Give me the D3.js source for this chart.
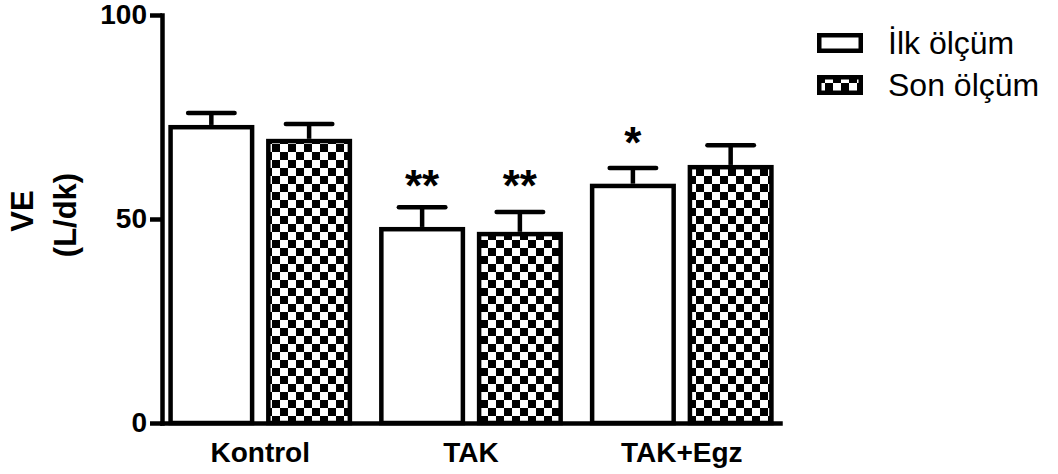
<!DOCTYPE html>
<html>
<head>
<meta charset="utf-8">
<script src="https://cdn.jsdelivr.net/npm/d3@7"></script>
<style>
  body { margin: 0; background: #fff; }
  svg { display: block; font-family: Arial, "Liberation Sans", sans-serif; }
</style>
</head>
<body>
<div id="chart"></div>
<script>
// values
const groups = ["Kontrol", "TAK", "TAK+Egz"];
const series = ["İlk ölçüm", "Son ölçüm"];
const means = [
  [72.5, 69.1],
  [47.5, 46.3],
  [58.1, 62.7],
];
const sems = [
  [3.5, 4.2],
  [5.4, 5.4],
  [4.4, 5.4],
];
const yTicks = [0, 50, 100];
// significance marks: group, series index, text, level (data units of baseline)
const sigMarks = [
  { group: "TAK", s: 0, text: "**", level: 54.5 },
  { group: "TAK", s: 1, text: "**", level: 54.5 },
  { group: "TAK+Egz", s: 0, text: "*", level: 65.0 },
];

const width = 1058;
const height = 474;
const sw = 4.5; // stroke width used everywhere

const svg = d3
  .select("#chart")
  .append("svg")
  .attr("width", width)
  .attr("height", height);

// checker pattern for second series
const defs = svg.append("defs");
const pat = defs
  .append("pattern")
  .attr("id", "checker")
  .attr("patternUnits", "userSpaceOnUse")
  .attr("width", 16)
  .attr("height", 16);
pat.append("rect").attr("width", 16).attr("height", 16).attr("fill", "#fff");
pat.append("rect").attr("width", 8).attr("height", 8).attr("fill", "#000");
pat.append("rect").attr("x", 8).attr("y", 8).attr("width", 8).attr("height", 8).attr("fill", "#000");

const fills = ["#fff", "url(#checker)"];

const y = d3.scaleLinear().domain([0, 100]).range([423, 15]);

const x0 = d3
  .scaleBand()
  .domain(groups)
  .range([162, 780])
  .paddingInner(0.128)
  .paddingOuter(0.03);

const x1 = d3
  .scaleBand()
  .domain(d3.range(series.length))
  .range([0, x0.bandwidth()])
  .paddingInner(0.12);

const rows = [];
groups.forEach((g, i) => {
  series.forEach((s, j) => {
    rows.push({ group: g, s: j, mean: means[i][j], sem: sems[i][j] });
  });
});

const bars = svg.append("g").attr("class", "bars");

bars
  .selectAll("rect")
  .data(rows)
  .join("rect")
  .attr("x", (d) => x0(d.group) + x1(d.s) + sw / 2)
  .attr("width", x1.bandwidth() - sw)
  .attr("y", (d) => y(d.mean))
  .attr("height", (d) => y(0) - y(d.mean))
  .attr("fill", (d) => fills[d.s])
  .attr("stroke", "#000")
  .attr("stroke-width", sw);

// error bars (upper whisker only, as in the original)
const err = svg.append("g").attr("class", "errors").attr("stroke", "#000").attr("stroke-width", sw);
const cx = (d) => x0(d.group) + x1(d.s) + x1.bandwidth() / 2;
const capHalf = x1.bandwidth() * 0.27;

err
  .selectAll("line.whisker")
  .data(rows)
  .join("line")
  .attr("class", "whisker")
  .attr("x1", cx)
  .attr("x2", cx)
  .attr("y1", (d) => y(d.mean) - sw / 2)
  .attr("y2", (d) => y(d.mean + d.sem));

err
  .selectAll("line.cap")
  .data(rows)
  .join("line")
  .attr("class", "cap")
  .attr("stroke-linecap", "round")
  .attr("x1", (d) => cx(d) - capHalf)
  .attr("x2", (d) => cx(d) + capHalf)
  .attr("y1", (d) => y(d.mean + d.sem))
  .attr("y2", (d) => y(d.mean + d.sem));

// significance stars
svg
  .append("g")
  .selectAll("text")
  .data(sigMarks)
  .join("text")
  .attr("x", (d) => x0(d.group) + x1(d.s) + x1.bandwidth() / 2)
  .attr("y", (d) => y(d.level))
  .attr("text-anchor", "middle")
  .attr("font-size", 44)
  .attr("font-weight", "bold")
  .text((d) => d.text);

// axes
const yAxis = svg
  .append("g")
  .attr("transform", `translate(${x0.range()[0]},0)`)
  .call(d3.axisLeft(y).tickValues(yTicks).tickSize(12).tickSizeOuter(0).tickPadding(3));

const xAxis = svg
  .append("g")
  .attr("transform", `translate(0,${y(0)})`)
  .call(d3.axisBottom(x0).tickSize(0).tickPadding(19));

[yAxis, xAxis].forEach((ax) => {
  ax.select(".domain").attr("stroke-width", sw).attr("stroke-linecap", "square");
  ax.selectAll(".tick line").attr("stroke-width", sw);
  ax.selectAll(".tick text")
    .attr("font-size", 28)
    .attr("font-weight", "bold")
    .attr("font-family", 'Arial, "Liberation Sans", sans-serif')
    .attr("fill", "#000");
});

// y title
const yTitle = svg
  .append("text")
  .attr("transform", `translate(0,${(y(0) + y(100)) / 2 - 4}) rotate(-90)`)
  .attr("text-anchor", "middle")
  .attr("font-size", 31)
  .attr("font-weight", "bold");
yTitle.append("tspan").attr("x", 4).attr("y", 33).text("VE");
yTitle.append("tspan").attr("x", 0).attr("y", 76).text("(L/dk)");

// legend
const legend = svg
  .append("g")
  .attr("transform", "translate(817,33)")
  .selectAll("g")
  .data(series)
  .join("g")
  .attr("transform", (d, i) => `translate(0,${i * 42})`);

legend
  .append("rect")
  .attr("x", sw / 2)
  .attr("y", sw / 2)
  .attr("width", 46 - sw)
  .attr("height", 20 - sw)
  .attr("fill", (d, i) => fills[i])
  .attr("stroke", "#000")
  .attr("stroke-width", sw);

legend
  .append("text")
  .attr("x", 71)
  .attr("y", 21)
  .attr("font-size", 32)
  .text((d) => d);
</script>
</body>
</html>
